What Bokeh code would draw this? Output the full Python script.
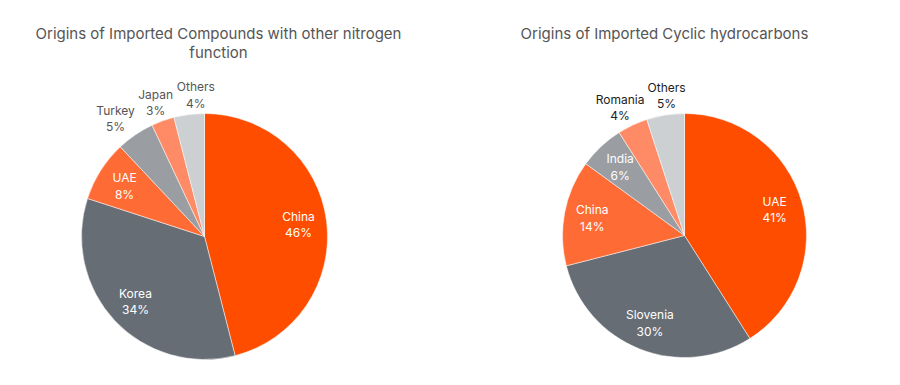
import numpy as np
from bokeh.plotting import figure
from bokeh.layouts import row
from bokeh.models import Range1d, ColumnDataSource
from bokeh.core.properties import value
from bokeh.embed import file_html
from bokeh.resources import INLINE

# ---- data ----
left_title = "Origins of Imported Compounds with other nitrogen\nfunction"
left_countries = ["China", "Korea", "UAE", "Turkey", "Japan", "Others"]
left_shares = [46, 34, 8, 5, 3, 4]

right_title = "Origins of Imported Cyclic hydrocarbons"
right_countries = ["UAE", "Slovenia", "China", "India", "Romania", "Others"]
right_shares = [41, 30, 14, 6, 4, 5]

palette = ["#FF4D00", "#666D74", "#FF6B35", "#9A9EA3", "#FF8A66", "#CDD0D3"]

W, H = 442, 369
FONT = "Inter"
CHAR_W = 6.4     # approx. glyph width at 12px
LABEL_H = 28     # two-line label height
PAD = 5


def relax(xs, ys, ws, idx):
    """Push overlapping outside labels apart horizontally."""
    xs = xs.copy()
    for _ in range(60):
        moved = False
        order = sorted(idx, key=lambda i: xs[i])
        for a, b in zip(order[:-1], order[1:]):
            if abs(ys[a] - ys[b]) >= LABEL_H:
                continue
            need = (ws[a] + ws[b]) / 2 + PAD - (xs[b] - xs[a])
            if need > 0.1:
                xs[a] -= need / 2
                xs[b] += need / 2
                moved = True
        if not moved:
            break
    return xs


def make_pie(title, names, shares, cx, cy, R, title_x, outside_color):
    p = figure(width=W, height=H, x_range=Range1d(0, W), y_range=Range1d(0, H),
               x_axis_type=None, y_axis_type=None, toolbar_location=None,
               output_backend="svg", min_border=0, outline_line_color=None,
               background_fill_color="white", border_fill_color="white")
    p.grid.visible = False
    v = np.array(shares, dtype=float)
    frac = v / v.sum()
    cum = np.concatenate([[0], np.cumsum(frac)])
    start = np.pi / 2 - 2 * np.pi * cum[:-1]
    end = np.pi / 2 - 2 * np.pi * cum[1:]
    mid = (start + end) / 2
    src = ColumnDataSource(dict(x=[cx] * len(v), y=[cy] * len(v), start=start, end=end,
                                color=palette[:len(v)]))
    p.wedge(x="x", y="y", radius=R, start_angle="start", end_angle="end",
            direction="clock", fill_color="color", line_color="white", line_width=0.5,
            source=src)
    labels = [f"{n}\n{s}%" for n, s in zip(names, shares)]
    inside = v > 5
    rr = np.where(inside, 0.77 * R, 1.16 * R)
    lx = cx + rr * np.cos(mid)
    ly = cy + rr * np.sin(mid)
    ws = np.array([max(len(n), len(f"{s}%")) * CHAR_W for n, s in zip(names, shares)])
    outside_idx = [i for i in range(len(v)) if not inside[i]]
    lx = relax(lx, ly, ws, outside_idx)
    cols = np.where(inside, "white", outside_color)
    lsrc = ColumnDataSource(dict(x=lx, y=ly, t=labels, c=list(cols)))
    p.text(x="x", y="y", text="t", text_color="c", text_align="center",
           text_baseline="middle", text_font=value(FONT), text_font_size="12px",
           text_line_height=1.1, source=lsrc)
    p.text(x=[title_x], y=[H - 23], text=[title], text_color="#555555",
           text_align="center", text_baseline="top", text_font=value(FONT),
           text_font_size="15px", text_line_height=1.05)
    return p


p1 = make_pie(left_title, left_countries, left_shares, 204, 133, 123, 218, "#555555")
p2 = make_pie(right_title, right_countries, right_shares, 242, 134, 122, 222, "#222222")
layout = row(p1, p2)

open("out.html", "w").write(file_html(layout, INLINE))
